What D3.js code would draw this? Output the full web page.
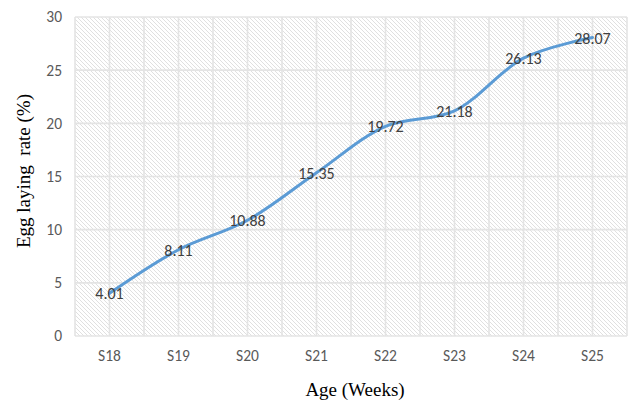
<!DOCTYPE html>
<html><head><meta charset="utf-8">
<script src="https://cdn.jsdelivr.net/npm/d3@7"></script>
<style>body{margin:0;background:#fff}</style>
</head><body>
<svg id="c" width="629" height="402"></svg>
<script>
const categories = ["S18","S19","S20","S21","S22","S23","S24","S25"];
const values = [4.01, 8.11, 10.88, 15.35, 19.72, 21.18, 26.13, 28.07];
const yTicks = [0,5,10,15,20,25,30];

const svg = d3.select("#c");
const m = {l:75, r:2, t:17, b:66};
const W = 629, H = 402;
const x = d3.scaleBand().domain(categories).range([m.l, W-m.r]);
const y = d3.scaleLinear().domain([0,30]).range([H-m.b, m.t]);
const sans = "Carlito, Calibri, 'Liberation Sans', sans-serif";

const defs = svg.append("defs");
const pat = defs.append("pattern").attr("id","hatch").attr("patternUnits","userSpaceOnUse")
  .attr("width",4).attr("height",4);
pat.append("rect").attr("width",4).attr("height",4).attr("fill","#fff");
pat.append("path").attr("d","M-1,-1 L5,5 M-1,3 L1,5 M3,-1 L5,1").attr("stroke","#d8d8d8").attr("stroke-width",0.8);

svg.append("rect").attr("x",m.l).attr("y",m.t).attr("width",W-m.r-m.l).attr("height",H-m.b-m.t)
  .attr("fill","url(#hatch)");

// horizontal gridlines
svg.append("g").selectAll("line").data(yTicks).join("line")
  .attr("x1",m.l).attr("x2",W-m.r).attr("y1",d=>y(d)).attr("y2",d=>y(d))
  .attr("stroke","#e4e4e4").attr("stroke-width",1.6);
// vertical gridlines at half-category intervals
const vx = [];
categories.forEach(c=>{vx.push(x(c)); vx.push(x(c)+x.bandwidth()/2);});
vx.push(W-m.r);
svg.append("g").selectAll("line").data(vx).join("line")
  .attr("x1",d=>d).attr("x2",d=>d).attr("y1",m.t).attr("y2",H-m.b)
  .attr("stroke","#e4e4e4").attr("stroke-width",1.6);

// y tick labels
const yAxis = d3.axisLeft(y).tickValues(yTicks).tickSize(0).tickPadding(0);
const gy = svg.append("g").attr("transform",`translate(${m.l-13},0)`).call(yAxis);
gy.select(".domain").remove();
gy.selectAll("text").attr("font-family",sans).attr("font-size",15.5).attr("fill","#595959");

// x tick labels
const xAxis = d3.axisBottom(x).tickSize(0).tickPadding(0);
const gx = svg.append("g").attr("transform",`translate(0,${H-m.b+14})`).call(xAxis);
gx.select(".domain").remove();
gx.selectAll("text").attr("font-family",sans).attr("font-size",15.5).attr("fill","#595959");

// line
const line = d3.line().x((d,i)=>x(categories[i])+x.bandwidth()/2).y(d=>y(d)).curve(d3.curveCatmullRom.alpha(0.5));
svg.append("path").datum(values).attr("d",line).attr("fill","none")
  .attr("stroke","#5b9bd5").attr("stroke-width",3).attr("stroke-linecap","round");

// data labels
svg.append("g").selectAll("text").data(values).join("text")
  .attr("x",(d,i)=>x(categories[i])+x.bandwidth()/2)
  .attr("y",d=>y(d)+6)
  .attr("text-anchor","middle")
  .attr("font-family",sans).attr("font-size",16).attr("fill","#404040")
  .text(d=>d.toFixed(2));

// axis titles
svg.append("text").attr("x",355).attr("y",396).attr("text-anchor","middle")
  .attr("font-family","'Liberation Serif', 'Times New Roman', serif").attr("font-size",19).attr("fill","#000")
  .text("Age (Weeks)");
svg.append("text").attr("transform","translate(30,171) rotate(-90)").attr("text-anchor","middle")
  .attr("font-family","'Liberation Serif', 'Times New Roman', serif").attr("font-size",19).attr("fill","#000")
  .attr("xml:space","preserve").style("white-space","pre")
  .text("Egg laying  rate (%)");
</script>
</body></html>
